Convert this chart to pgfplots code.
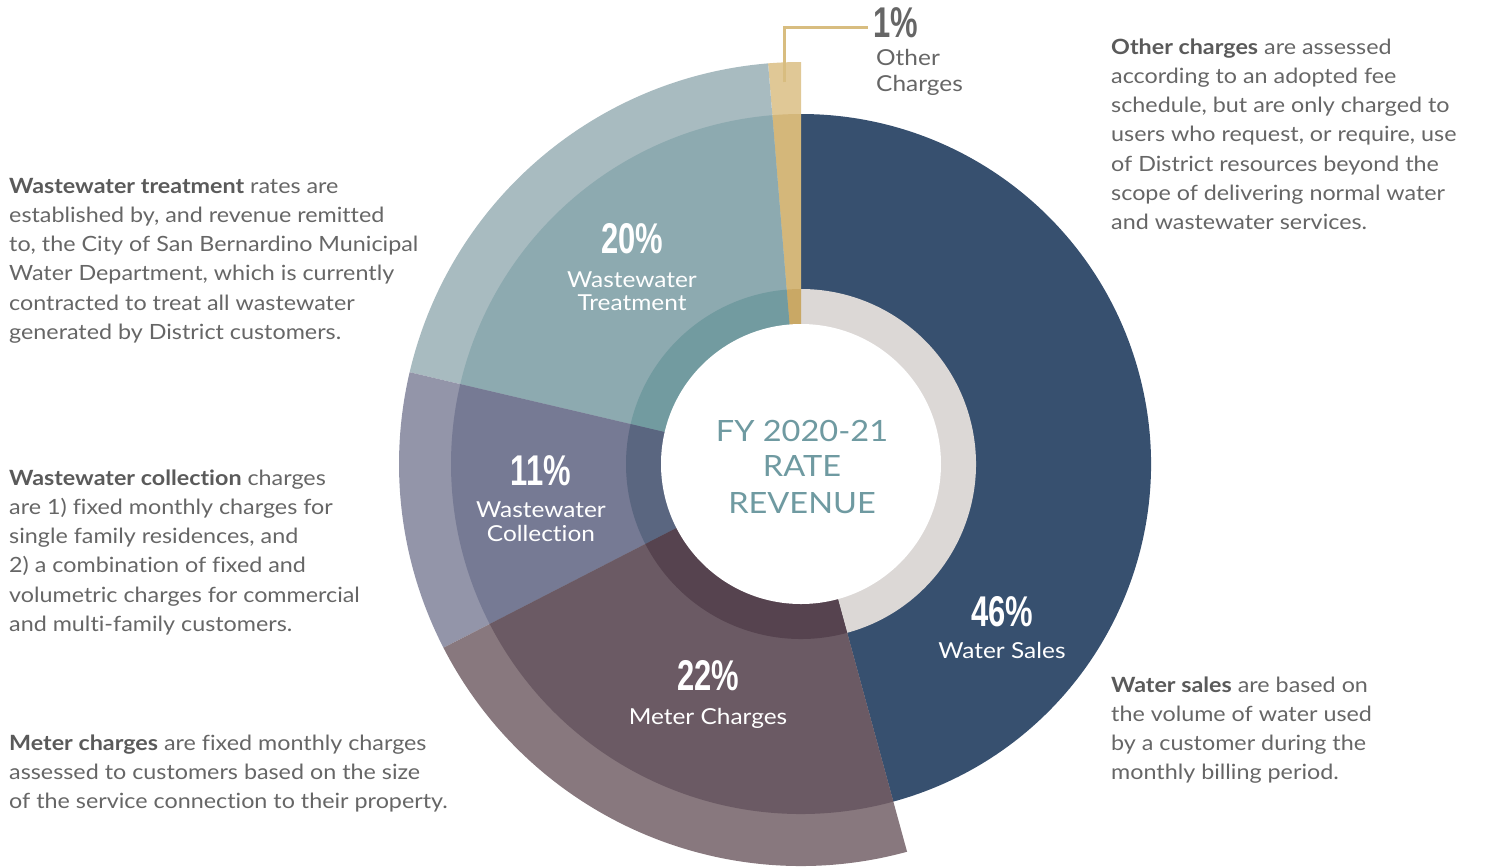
\documentclass[border=0pt]{standalone}
\usepackage{pgfplots}
\pgfplotsset{compat=1.18}
\usepackage{fontspec}
\usepackage{graphicx}
\setmainfont{Lato}[FakeStretch=1.11,Ligatures=NoCommon]
\newfontfamily\pctfont{Liberation Sans}

\definecolor{wsMid}{HTML}{37506F}
\definecolor{wsIn}{HTML}{DCD8D6}
\definecolor{ocOut}{HTML}{E0C896}
\definecolor{ocMid}{HTML}{D4B77A}
\definecolor{ocIn}{HTML}{C9A865}
\definecolor{wtOut}{HTML}{A8BBC0}
\definecolor{wtMid}{HTML}{8DAAB0}
\definecolor{wtIn}{HTML}{729BA0}
\definecolor{wcOut}{HTML}{9395A9}
\definecolor{wcMid}{HTML}{767A94}
\definecolor{wcIn}{HTML}{5A6680}
\definecolor{mcOut}{HTML}{88787E}
\definecolor{mcMid}{HTML}{6B5A64}
\definecolor{mcIn}{HTML}{56434F}
\definecolor{bodygray}{HTML}{666666}
\definecolor{boldgray}{HTML}{5A5A5A}
\definecolor{teal}{HTML}{6F9AA1}
\definecolor{lead}{HTML}{D8BD80}

% sector: color, start angle, end angle, radius (centre at 801,464 in image pixels)
\newcommand\seg[4]{\fill[#1] (axis cs:801,464) -- ++(#2:#4bp) arc[start angle=#2,end angle=#3,radius=#4bp] -- cycle;}
\newcommand\bodyfont{\fontsize{21bp}{29.3bp}\selectfont}
\newcommand\lblfont{\fontsize{22bp}{24bp}\selectfont}
\newcommand\pct[1]{{\pctfont\bfseries\fontsize{43bp}{43bp}\selectfont\scalebox{0.72}[1]{#1}}}
\newcommand\bl[3]{\node[anchor=base west,inner sep=0pt,text=bodygray] at (axis cs:#1,#2) {\bodyfont #3};}
\newcommand\bb[1]{{\bfseries\color{boldgray}#1}}

\begin{document}
\begin{tikzpicture}
\begin{axis}[x=1bp,y=1bp,xmin=0,xmax=1485,ymin=0,ymax=867,y dir=reverse,
  hide axis,clip=false]
% outer ring (r = 402)
\seg{ocOut}{90}{94.7}{402}
\seg{wtOut}{94.7}{166.8}{402}
\seg{wcOut}{166.8}{207.2}{402}
\seg{mcOut}{207.2}{285.3}{402}
% middle ring (r = 350)
\seg{wsMid}{-74.7}{90}{350}
\seg{ocMid}{90}{94.7}{350}
\seg{wtMid}{94.7}{166.8}{350}
\seg{wcMid}{166.8}{207.2}{350}
\seg{mcMid}{207.2}{285.3}{350}
% inner ring (r = 175)
\seg{wsIn}{-74.7}{90}{175}
\seg{ocIn}{90}{94.7}{175}
\seg{wtIn}{94.7}{166.8}{175}
\seg{wcIn}{166.8}{207.2}{175}
\seg{mcIn}{207.2}{285.3}{175}
\fill[white] (axis cs:801,464) circle[radius=140bp];
% leader line for Other charges
\draw[lead,line width=3bp] (axis cs:784,82) -- (axis cs:784,27) -- (axis cs:868,27);

% centre title
\node[anchor=base,inner sep=0pt,text=teal] at (axis cs:802,441) {\fontsize{29.3bp}{30bp}\selectfont FY 2020-21};
\node[anchor=base,inner sep=0pt,text=teal] at (axis cs:802,476.7) {\fontsize{29.3bp}{30bp}\selectfont RATE};
\node[anchor=base,inner sep=0pt,text=teal] at (axis cs:802,513.3) {\fontsize{29.3bp}{30bp}\selectfont REVENUE};

% segment labels
\node[anchor=base,inner sep=0pt,text=white] at (axis cs:632,253.3) {\pct{20\%}};
\node[anchor=base,inner sep=0pt,text=white] at (axis cs:632,287) {\lblfont Wastewater};
\node[anchor=base,inner sep=0pt,text=white] at (axis cs:632,310.5) {\lblfont Treatment};
\node[anchor=base,inner sep=0pt,text=white] at (axis cs:541,485) {\pct{11\%}};
\node[anchor=base,inner sep=0pt,text=white] at (axis cs:541,517.3) {\lblfont Wastewater};
\node[anchor=base,inner sep=0pt,text=white] at (axis cs:541,541.7) {\lblfont Collection};
\node[anchor=base,inner sep=0pt,text=white] at (axis cs:1002,626.7) {\pct{46\%}};
\node[anchor=base,inner sep=0pt,text=white] at (axis cs:1002,658.3) {\lblfont Water Sales};
\node[anchor=base,inner sep=0pt,text=white] at (axis cs:708,690.7) {\pct{22\%}};
\node[anchor=base,inner sep=0pt,text=white] at (axis cs:708,724) {\lblfont Meter Charges};
\node[anchor=base west,inner sep=0pt,text=bodygray] at (axis cs:873,37) {\pct{1\%}};
\node[anchor=base west,inner sep=0pt,text=bodygray] at (axis cs:876,65.7) {\lblfont Other};
\node[anchor=base west,inner sep=0pt,text=bodygray] at (axis cs:876,91.7) {\lblfont Charges};

% left descriptions
\bl{9}{193}{\bb{Wastewater treatment} rates are}
\bl{9}{222.3}{established by, and revenue remitted}
\bl{9}{251.6}{to, the City of San Bernardino Municipal}
\bl{9}{280.9}{Water Department, which is currently}
\bl{9}{310.2}{contracted to treat all wastewater}
\bl{9}{339.5}{generated by District customers.}

\bl{9}{485}{\bb{Wastewater collection} charges}
\bl{9}{514.3}{are 1) fixed monthly charges for}
\bl{9}{543.6}{single family residences, and}
\bl{9}{572.9}{2) a combination of fixed and}
\bl{9}{602.2}{volumetric charges for commercial}
\bl{9}{631.5}{and multi-family customers.}

\bl{9}{750}{\bb{Meter charges} are fixed monthly charges}
\bl{9}{779.3}{assessed to customers based on the size}
\bl{9}{808.6}{of the service connection to their property.}

% right descriptions
\bl{1111}{54}{\bb{Other charges} are assessed}
\bl{1111}{83.3}{according to an adopted fee}
\bl{1111}{112.6}{schedule, but are only charged to}
\bl{1111}{141.9}{users who request, or require, use}
\bl{1111}{171.2}{of District resources beyond the}
\bl{1111}{200.5}{scope of delivering normal water}
\bl{1111}{229.8}{and wastewater services.}

\bl{1111}{692}{\bb{Water sales} are based on}
\bl{1111}{721.3}{the volume of water used}
\bl{1111}{750.6}{by a customer during the}
\bl{1111}{779.9}{monthly billing period.}
\end{axis}
\pgfresetboundingbox
\useasboundingbox (0,0) rectangle (1485bp,867bp);
\end{tikzpicture}
\end{document}
